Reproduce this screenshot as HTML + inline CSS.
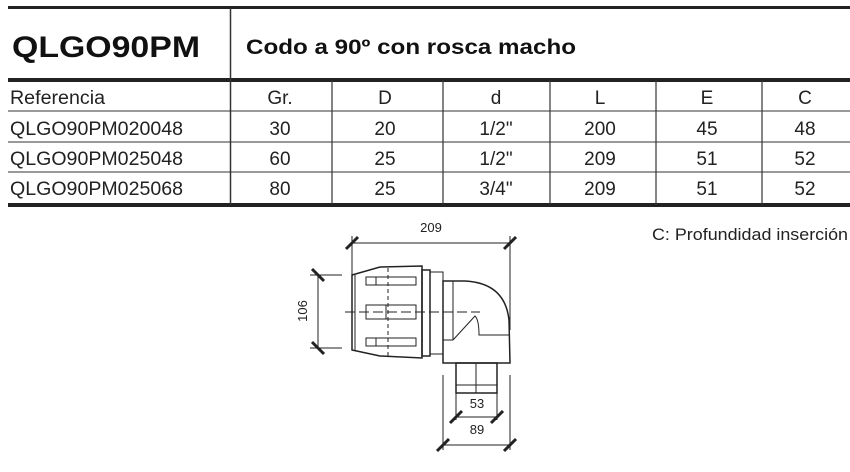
<!DOCTYPE html>
<html><head><meta charset="utf-8"><style>
body{margin:0;background:#fff;width:850px;height:467px;overflow:hidden;font-family:"Liberation Sans",sans-serif;}
</style></head><body>
<svg width="850" height="467" xmlns="http://www.w3.org/2000/svg" font-family="Liberation Sans, sans-serif">
<rect x="8" y="6" width="842" height="3" fill="#222"/>
<rect x="8" y="78" width="842" height="4" fill="#222"/>
<rect x="8" y="203" width="842" height="4" fill="#222"/>
<line x1="8" y1="111" x2="850" y2="111" stroke="#333" stroke-width="1"/>
<line x1="8" y1="142" x2="850" y2="142" stroke="#333" stroke-width="1"/>
<line x1="8" y1="172" x2="850" y2="172" stroke="#333" stroke-width="1"/>
<line x1="230.5" y1="8" x2="230.5" y2="205" stroke="#333" stroke-width="1.5"/>
<g stroke="#333" stroke-width="1.2">
<line x1="332" y1="80" x2="332" y2="205"/>
<line x1="443" y1="80" x2="443" y2="205"/>
<line x1="550" y1="80" x2="550" y2="205"/>
<line x1="656" y1="80" x2="656" y2="205"/>
<line x1="762" y1="80" x2="762" y2="205"/>
</g>
<text x="12" y="57" font-size="30" font-weight="bold" fill="#111" textLength="188" lengthAdjust="spacingAndGlyphs">QLGO90PM</text>
<text x="246" y="54" font-size="21" font-weight="bold" fill="#111" textLength="330" lengthAdjust="spacingAndGlyphs">Codo a 90º con rosca macho</text>
<g font-size="19" fill="#222">
<text x="10" y="104" textLength="95" lengthAdjust="spacingAndGlyphs">Referencia</text>
<text x="10" y="135" textLength="173" lengthAdjust="spacingAndGlyphs">QLGO90PM020048</text>
<text x="10" y="165" textLength="173" lengthAdjust="spacingAndGlyphs">QLGO90PM025048</text>
<text x="10" y="195" textLength="173" lengthAdjust="spacingAndGlyphs">QLGO90PM025068</text>
</g>
<g font-size="19" fill="#222" text-anchor="middle">
<text x="280" y="104">Gr.</text><text x="385" y="104">D</text><text x="496" y="104">d</text><text x="600" y="104">L</text><text x="707" y="104">E</text><text x="805" y="104">C</text>
<text x="280" y="135">30</text><text x="385" y="135">20</text><text x="496" y="135">1/2"</text><text x="600" y="135">200</text><text x="707" y="135">45</text><text x="805" y="135">48</text>
<text x="280" y="165">60</text><text x="385" y="165">25</text><text x="496" y="165">1/2"</text><text x="600" y="165">209</text><text x="707" y="165">51</text><text x="805" y="165">52</text>
<text x="280" y="195">80</text><text x="385" y="195">25</text><text x="496" y="195">3/4"</text><text x="600" y="195">209</text><text x="707" y="195">51</text><text x="805" y="195">52</text>
</g>
<text x="652" y="240" font-size="17" fill="#222" textLength="196" lengthAdjust="spacingAndGlyphs">C: Profundidad inserción</text>

<g stroke="#222" fill="none" stroke-width="1">
<line x1="352" y1="243" x2="510" y2="243"/>
<line x1="352" y1="236" x2="352" y2="275"/>
<line x1="510" y1="236" x2="510" y2="330"/>
<line x1="346" y1="249" x2="358" y2="237" stroke-width="3"/>
<line x1="504" y1="249" x2="516" y2="237" stroke-width="3"/>
<line x1="318" y1="275" x2="318" y2="348"/>
<line x1="310" y1="275" x2="342" y2="275"/>
<line x1="310" y1="348" x2="342" y2="348"/>
<line x1="312" y1="269" x2="324" y2="281" stroke-width="3"/>
<line x1="312" y1="342" x2="324" y2="354" stroke-width="3"/>
<path d="M352 275 L380 267 L422 266 L422 358 L380 356 L352 350 Z" stroke-width="1.5"/>
<line x1="355" y1="275" x2="355" y2="350"/>
<path d="M366 277 h50 v8 h-50 z M366 305 h50 v14 h-50 z M366 338 h50 v8 h-50 z"/>
<line x1="376" y1="277" x2="376" y2="285"/><line x1="386" y1="305" x2="386" y2="319"/><line x1="376" y1="338" x2="376" y2="346"/>
<line x1="388" y1="268" x2="388" y2="356" stroke-dasharray="4 3"/>
<line x1="345" y1="312" x2="480" y2="312" stroke-dasharray="10 4"/>
<rect x="422" y="270" width="8" height="86" stroke-width="1.5"/>
<rect x="430" y="272" width="13" height="82"/>
<path d="M443 281 L465 281 Q505 283 509 320 L510 363 L443 363 Z" stroke-width="1.5"/>
<line x1="453" y1="281" x2="453" y2="340"/>
<path d="M453 340 L475 316 Q479 320 479 335 L510 335"/>
<line x1="443" y1="340" x2="453" y2="340"/>
<rect x="456" y="363" width="41" height="30" stroke-width="1.5"/>
<line x1="456" y1="385" x2="497" y2="385"/>
<line x1="476" y1="363" x2="476" y2="393"/>
<line x1="456" y1="393" x2="456" y2="420"/><line x1="497" y1="393" x2="497" y2="420"/>
<line x1="456" y1="417" x2="497" y2="417"/>
<line x1="450" y1="423" x2="462" y2="411" stroke-width="3"/>
<line x1="491" y1="423" x2="503" y2="411" stroke-width="3"/>
<line x1="443" y1="375" x2="443" y2="450"/><line x1="510" y1="375" x2="510" y2="450"/>
<line x1="443" y1="445" x2="510" y2="445"/>
<line x1="437" y1="451" x2="449" y2="439" stroke-width="3"/>
<line x1="504" y1="451" x2="516" y2="439" stroke-width="3"/>
</g>
<g font-size="13" fill="#222" text-anchor="middle">
<text x="431" y="232">209</text>
<text x="477" y="408">53</text>
<text x="477" y="434">89</text>
<text transform="translate(307,311) rotate(-90)">106</text>
</g>
</svg>
</body></html>
